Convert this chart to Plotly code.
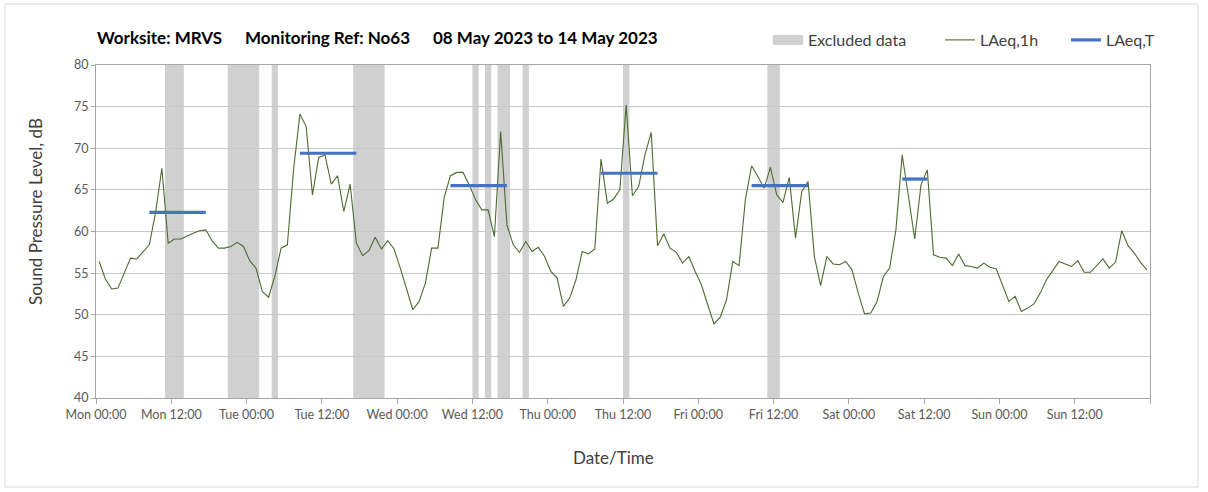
import pandas as pd
import plotly.graph_objects as go

# ---------------- data ----------------
start_time = "2023-05-08 00:00"
end_time = "2023-05-15 00:00"

# Hourly LAeq,1h values (dB), Mon 08 May 00:00 .. Sun 14 May 23:00
laeq_1h = [
    56.4, 54.3, 53.1, 53.2, 55.0, 56.8, 56.7, 57.6, 58.4, 62.3, 67.6, 58.6,
    59.1, 59.1, 59.5, 59.8, 60.1, 60.2, 58.9, 58.0, 58.0, 58.2, 58.7, 58.2,
    56.5, 55.6, 52.8, 52.1, 54.6, 58.0, 58.4, 67.5, 74.1, 72.6, 64.4, 68.9,
    69.2, 65.7, 66.7, 62.4, 65.7, 58.6, 57.1, 57.7, 59.3, 57.9, 58.9, 57.9,
    55.6, 53.0, 50.6, 51.6, 53.8, 58.0, 58.0, 64.1, 66.7, 67.1, 67.1, 65.6,
    63.8, 62.6, 62.6, 59.4, 72.0, 60.8, 58.4, 57.5, 58.8, 57.6, 58.1, 57.0,
    55.2, 54.4, 51.0, 52.0, 54.2, 57.6, 57.3, 57.9, 68.7, 63.4, 63.9, 65.0,
    75.2, 64.3, 65.4, 69.2, 71.9, 58.3, 59.7, 58.0, 57.5, 56.2, 57.0, 55.2,
    53.6, 51.2, 48.9, 49.7, 51.8, 56.4, 55.9, 63.8, 67.9, 66.6, 65.2, 67.7,
    64.4, 63.5, 66.5, 59.2, 64.8, 66.0, 57.0, 53.5, 57.0, 56.1, 56.0, 56.4,
    55.4, 52.6, 50.1, 50.2, 51.6, 54.6, 55.6, 60.2, 69.2, 64.2, 59.1, 65.6,
    67.4, 57.2, 56.9, 56.8, 55.9, 57.3, 55.9, 55.8, 55.6, 56.2, 55.7, 55.5,
    53.5, 51.6, 52.2, 50.4, 50.8, 51.3, 52.6, 54.2, 55.3, 56.4, 56.1, 55.8,
    56.5, 55.1, 55.1, 55.9, 56.7, 55.6, 56.3, 60.1, 58.3, 57.4, 56.3, 55.4,
]

# LAeq,T assessment periods (start, end, level dB)
period_start = ["2023-05-08 08:00", "2023-05-09 08:00", "2023-05-10 08:00",
                "2023-05-11 08:00", "2023-05-12 08:00", "2023-05-13 08:00"]
period_end = ["2023-05-08 18:00", "2023-05-09 18:00", "2023-05-10 18:00",
              "2023-05-11 18:00", "2023-05-12 18:00", "2023-05-13 13:00"]
period_level = [62.3, 69.4, 65.5, 67.0, 65.5, 66.3]

# Excluded data periods
excl_start = ["2023-05-08 11:00", "2023-05-08 21:00", "2023-05-09 04:00",
              "2023-05-09 17:00", "2023-05-10 12:00", "2023-05-10 14:00",
              "2023-05-10 16:00", "2023-05-10 20:00", "2023-05-11 12:00",
              "2023-05-12 11:00"]
excl_end = ["2023-05-08 14:00", "2023-05-09 02:00", "2023-05-09 05:00",
            "2023-05-09 22:00", "2023-05-10 13:00", "2023-05-10 15:00",
            "2023-05-10 18:00", "2023-05-10 21:00", "2023-05-11 13:00",
            "2023-05-12 13:00"]

title_parts = ["Worksite: MRVS", "Monitoring Ref: No63", "08 May 2023 to 14 May 2023"]

# ---------------- figure ----------------
W, H = 1208, 492
ML, MR, MT, MB = 96, 58, 65, 94
PW, PH = W - ML - MR, H - MT - MB

def px_x(x):
    return (x - ML) / PW

def px_y(y):
    return (H - MB - y) / PH

FONT = "Lato, 'Open Sans', sans-serif"
half = pd.Timedelta(minutes=30)
times = pd.date_range(pd.Timestamp(start_time) + half, periods=len(laeq_1h), freq="h")

fig = go.Figure()

# Legend proxy for excluded data (wide grey swatch)
fig.add_trace(go.Scatter(x=[None], y=[None], mode="lines", name="Excluded data",
                         line=dict(color="#d0d0d0", width=10), legend="legend"))

fig.add_trace(go.Scatter(x=times, y=laeq_1h, mode="lines", name="LAeq,1h",
                         line=dict(color="#4e6b30", width=1.1), legend="legend2"))

tx, ty = [], []
for s, e, lv in zip(period_start, period_end, period_level):
    tx += [pd.Timestamp(s) + half, pd.Timestamp(e) - half, None]
    ty += [lv, lv, None]
fig.add_trace(go.Scatter(x=tx, y=ty, mode="lines", name="LAeq,T",
                         line=dict(color="#4472c4", width=3.2), legend="legend3"))

for s, e in zip(excl_start, excl_end):
    fig.add_shape(type="rect", xref="x", yref="y", x0=s, x1=e, y0=40, y1=80,
                  fillcolor="#d0d0d0", line=dict(width=0), layer="below")

# Outer chart border
fig.add_shape(type="rect", xref="paper", yref="paper",
              x0=px_x(5), x1=px_x(1198), y0=px_y(487), y1=px_y(4),
              line=dict(color="#d9d9d9", width=1), fillcolor="rgba(0,0,0,0)")

ticks = pd.date_range(start_time, end_time, freq="12h")
ticktext = [t.strftime("%a %H:%M") for t in ticks[:-1]] + [""]

leg_common = dict(orientation="h", yanchor="middle", xanchor="left",
                  font=dict(size=16, color="#404040"),
                  bgcolor="rgba(0,0,0,0)", borderwidth=0, itemwidth=30)

xr = [start_time, end_time]
fig.update_layout(
    width=W, height=H,
    margin=dict(l=ML, r=MR, t=MT, b=MB, autoexpand=False),
    paper_bgcolor="white", plot_bgcolor="white",
    font=dict(family=FONT, color="#404040"),
    showlegend=True,
    legend=dict(x=px_x(768), y=px_y(40), **leg_common),
    legend2=dict(x=px_x(940), y=px_y(40), **leg_common),
    legend3=dict(x=px_x(1066), y=px_y(40), **leg_common),
    xaxis=dict(type="date", range=xr, tickmode="array", tickvals=ticks,
               ticktext=ticktext,
               showgrid=False, zeroline=False,
               showline=True, linecolor="#a6a6a6", linewidth=1, mirror=True,
               ticks="outside", ticklen=5, tickcolor="#a6a6a6",
               tickfont=dict(size=12.5, color="#595959")),
    xaxis2=dict(type="date", range=xr, overlaying="x", tickmode="linear",
                tick0=start_time, dtick=24 * 3600 * 1000,
                showgrid=True, gridcolor="#d9d9d9", gridwidth=1,
                showticklabels=False, ticks="", showline=False, zeroline=False),
    yaxis=dict(range=[40, 80], dtick=5, showgrid=True, gridcolor="#c8c8c8",
               gridwidth=1, zeroline=False,
               showline=True, linecolor="#a6a6a6", linewidth=1, mirror=True,
               ticks="outside", ticklen=4, tickcolor="#a6a6a6",
               tickfont=dict(size=12.5, color="#595959")),
)

# Title parts
title_x = [95, 243, 431]
for t, x in zip(title_parts, title_x):
    fig.add_annotation(text="<b>" + t + "</b>", xref="paper", yref="paper",
                       x=px_x(x), y=px_y(38), xanchor="left", yanchor="middle",
                       showarrow=False, font=dict(size=17, color="#000000", family=FONT))

# Axis titles
fig.add_annotation(text="Sound Pressure Level, dB", xref="paper", yref="paper",
                   x=px_x(35), y=px_y(212), textangle=-90, showarrow=False,
                   xanchor="center", yanchor="middle",
                   font=dict(size=17, color="#404040"))
fig.add_annotation(text="Date/Time", xref="paper", yref="paper",
                   x=px_x(613), y=px_y(457), showarrow=False,
                   xanchor="center", yanchor="middle",
                   font=dict(size=17, color="#404040"))

fig.write_html("out.html", config={"displayModeBar": False},
               post_script="document.body.style.margin='0px';")
